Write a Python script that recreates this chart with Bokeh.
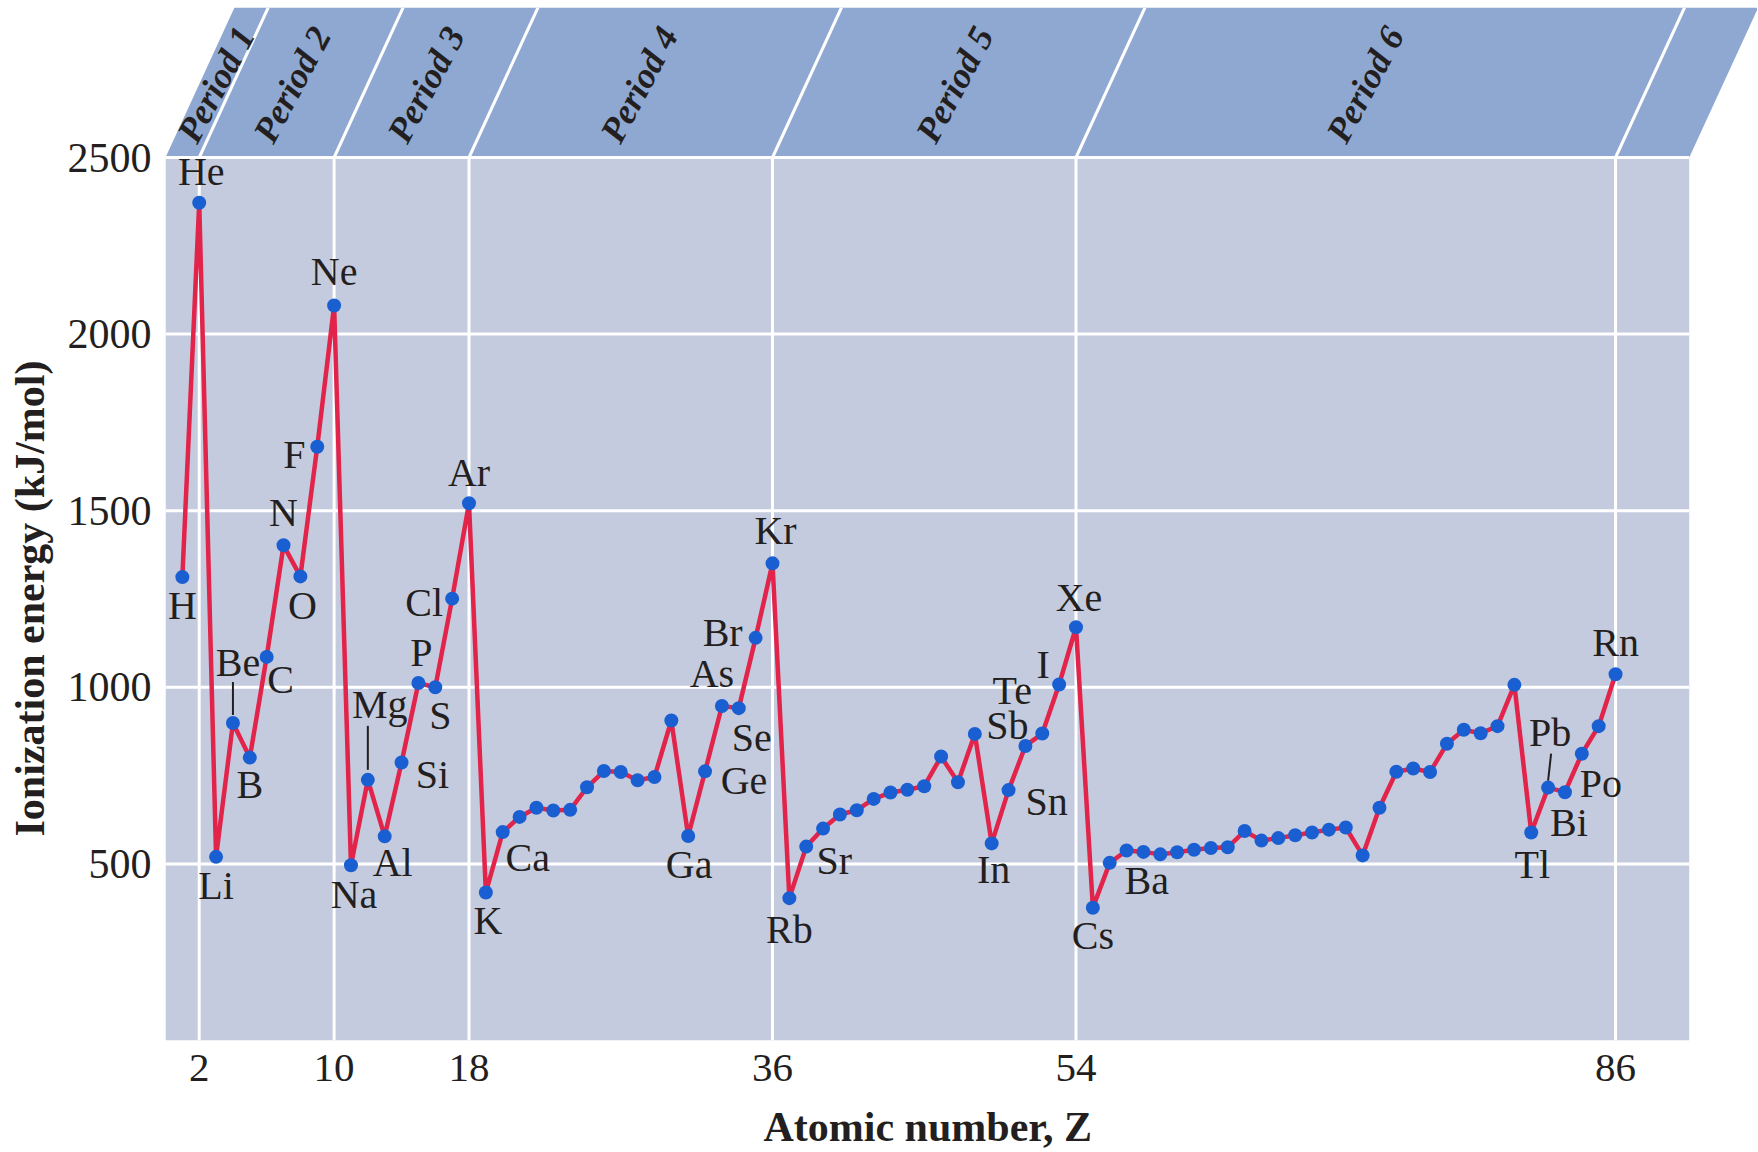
import math
from bokeh.plotting import figure
from bokeh.models import ColumnDataSource, FixedTicker, Range1d, Title
from bokeh.core.properties import value
from bokeh.embed import file_html
from bokeh.resources import INLINE

# ---------------- data ----------------
atomic_number = list(range(1, 87))
ionization_energy = [
    1312, 2372,
    520, 899, 801, 1086, 1402, 1314, 1681, 2081,
    496, 738, 578, 787, 1012, 1000, 1251, 1521,
    419, 590, 633, 659, 651, 653, 717, 763, 760, 737, 746, 906, 579, 762, 947, 941, 1140, 1351,
    403, 549, 600, 640, 652, 684, 702, 710, 720, 804, 731, 868, 558, 709, 834, 869, 1008, 1170,
    376, 503, 538, 534, 527, 533, 540, 545, 547, 593, 566, 573, 581, 589, 597, 603, 524,
    659, 761, 770, 760, 840, 880, 870, 890, 1007, 589, 716, 703, 812, 890, 1037,
]
labeled_symbols = ["H", "He", "Li", "Be", "B", "C", "N", "O", "F", "Ne",
                   "Na", "Mg", "Al", "Si", "P", "S", "Cl", "Ar",
                   "K", "Ca", "Ga", "Ge", "As", "Se", "Br", "Kr",
                   "Rb", "Sr", "In", "Sn", "Sb", "Te", "I", "Xe",
                   "Cs", "Ba", "Tl", "Pb", "Bi", "Po", "Rn"]
labeled_z = [1, 2, 3, 4, 5, 6, 7, 8, 9, 10,
             11, 12, 13, 14, 15, 16, 17, 18,
             19, 20, 31, 32, 33, 34, 35, 36,
             37, 38, 49, 50, 51, 52, 53, 54,
             55, 56, 81, 82, 83, 84, 86]
period_names = ["Period 1", "Period 2", "Period 3", "Period 4", "Period 5", "Period 6"]
period_bounds = [0, 2, 10, 18, 36, 54, 86]
x_ticks = [2, 10, 18, 36, 54, 86]
y_ticks = [500, 1000, 1500, 2000, 2500]

# ---------------- layout / style ----------------
LEFT = 165                 # px, frame left edge
TOP = 7                    # px, frame (banner) top edge
TOTAL_W = 1757
FRAME_W = TOTAL_W - LEFT
PX_X = 16.861              # px per Z unit
PLOT_BOTTOM = 1040         # px of y = 0
PX_Y = 883 / 2500          # px per kJ/mol
Y_TOP_PLOT = 2500
X_END_PLOT = 90.37
BANNER_H = 150
SLANT = 69 / 150           # horizontal px shift per vertical px in the banner
TOTAL_H = 1152

BG = "#c5cbde"
BANNER = "#8ea8d2"
LINE = "#e2234a"
DOT = "#1a5fd2"
INK = "#231f20"
SERIF = "Liberation Serif"

label_offsets = {
    "H": (0, 31), "He": (2, -28), "Li": (0, 32), "Be": (5, -57), "B": (0, 30),
    "C": (14, 26), "N": (0, -30), "O": (2, 32), "F": (-23, 11), "Ne": (0, -31),
    "Na": (3, 32), "Mg": (12, -72), "Al": (8, 29), "Si": (31, 15), "P": (3, -28),
    "S": (5, 31), "Cl": (-28, 7), "Ar": (0, -28), "K": (2, 31), "Ca": (25, 28),
    "Ga": (1, 32), "Ge": (39, 12), "As": (-10, -30), "Se": (13, 32), "Br": (-33, -2),
    "Kr": (3, -30), "Rb": (0, 34), "Sr": (28, 17), "In": (2, 29), "Sn": (38, 14),
    "Sb": (-18, -17), "Te": (-30, -40), "I": (-16, -17), "Xe": (3, -27), "Cs": (0, 31),
    "Ba": (37, 21), "Tl": (1, 35), "Pb": (2, -52), "Bi": (4, 33), "Po": (19, 33),
    "Rn": (0, -29),
}
LABEL_DY_CORR = -3          # baseline correction of the text glyph
leaders = {"Be": (0, -41, 0, -8), "Mg": (0, -54, 0, -10), "Pb": (3, -34, 0, -7)}
period_label_dx = [0, -8, -9, -15, -3, -14]
period_label_py = 84       # page px of label centres

y_end = (PLOT_BOTTOM - TOP) / PX_Y
x_end = FRAME_W / PX_X
skew = SLANT * PX_Y / PX_X  # x-units per y-unit

p = figure(width=TOTAL_W, height=TOTAL_H, output_backend="svg", toolbar_location=None,
           x_range=Range1d(0, x_end), y_range=Range1d(0, y_end),
           min_border_left=LEFT, min_border_right=0,
           min_border_top=TOP, min_border_bottom=TOTAL_H - PLOT_BOTTOM,
           background_fill_color="white", border_fill_color="white")
p.outline_line_color = None
p.xgrid.visible = False
p.ygrid.visible = False

# plot background and grid
p.quad(left=[0], right=[X_END_PLOT], bottom=[0], top=[Y_TOP_PLOT], fill_color=BG, line_color=None)
p.segment(x0=[0] * len(y_ticks), x1=[X_END_PLOT] * len(y_ticks), y0=y_ticks, y1=y_ticks,
          line_color="white", line_width=3)
p.segment(x0=x_ticks, x1=x_ticks, y0=[0] * len(x_ticks), y1=[Y_TOP_PLOT] * len(x_ticks),
          line_color="white", line_width=3)

# banner
btop = Y_TOP_PLOT + BANNER_H / PX_Y
sh = skew * (btop - Y_TOP_PLOT)
p.patch(x=[0, X_END_PLOT, X_END_PLOT + sh, sh], y=[Y_TOP_PLOT, Y_TOP_PLOT, btop, btop],
        fill_color=BANNER, line_color=None)
p.segment(x0=x_ticks, x1=[t + sh for t in x_ticks], y0=[Y_TOP_PLOT] * len(x_ticks),
          y1=[btop] * len(x_ticks), line_color="white", line_width=3)
p.segment(x0=[0], x1=[X_END_PLOT], y0=[Y_TOP_PLOT], y1=[Y_TOP_PLOT], line_color="white", line_width=3)
ply = (PLOT_BOTTOM - period_label_py) / PX_Y
pl_x = [(period_bounds[i] + period_bounds[i + 1]) / 2 + skew * (ply - Y_TOP_PLOT)
        for i in range(len(period_names))]
p.text(x=pl_x, y=[ply] * len(pl_x), text=period_names, x_offset=period_label_dx,
       angle=math.radians(62), text_align="center", text_baseline="middle",
       text_font=value(SERIF), text_font_style="bold italic", text_font_size="36px", text_color=INK)

# data
p.line(atomic_number, ionization_energy, line_color=LINE, line_width=4.5)
p.scatter(atomic_number, ionization_energy, size=14, fill_color=DOT, line_color=None)

lab_y = [ionization_energy[z - 1] for z in labeled_z]
src = ColumnDataSource(dict(
    x=labeled_z, y=lab_y, text=labeled_symbols,
    dx=[label_offsets[s][0] for s in labeled_symbols],
    dy=[label_offsets[s][1] + LABEL_DY_CORR for s in labeled_symbols],
))
p.text(x="x", y="y", text="text", x_offset="dx", y_offset="dy", source=src,
       text_align="center", text_baseline="middle",
       text_font=value(SERIF), text_font_size="40px", text_color=INK)

lx0, lx1, ly0, ly1 = [], [], [], []
for s, (a, bb, c, d) in leaders.items():
    z = labeled_z[labeled_symbols.index(s)]
    e = ionization_energy[z - 1]
    lx0.append(z + a / PX_X); ly0.append(e - bb / PX_Y)
    lx1.append(z + c / PX_X); ly1.append(e - d / PX_Y)
p.segment(x0=lx0, y0=ly0, x1=lx1, y1=ly1, line_color=INK, line_width=2)

# axes
for ax, ticks, fs in ((p.xaxis[0], x_ticks, "41px"), (p.yaxis[0], y_ticks, "42px")):
    ax.ticker = FixedTicker(ticks=ticks)
    ax.axis_line_color = None
    ax.major_tick_line_color = None
    ax.minor_tick_line_color = None
    ax.major_tick_out = 0
    ax.major_tick_in = 0
    ax.minor_tick_out = 0
    ax.major_label_text_font = SERIF
    ax.major_label_text_font_size = fs
    ax.major_label_text_color = INK
p.xaxis.major_label_standoff = 14
p.yaxis.major_label_standoff = 14

# axis titles, centred on the plot area (not on the banner)
p.add_layout(Title(text="Ionization energy (kJ/mol)", align="left", offset=204,
                   vertical_align="bottom", standoff=8,
                   padding=dict(left=0, right=0, top=0, bottom=8),
                   text_font=SERIF, text_font_style="bold", text_font_size="42px",
                   text_color=INK), "left")
p.add_layout(Title(text="Atomic number, Z", align="left", offset=598,
                   vertical_align="top", standoff=0,
                   padding=dict(left=0, right=0, top=20, bottom=0),
                   text_font=SERIF, text_font_style="bold", text_font_size="42px",
                   text_color=INK), "below")

open("out.html", "w").write(file_html(p, INLINE))
